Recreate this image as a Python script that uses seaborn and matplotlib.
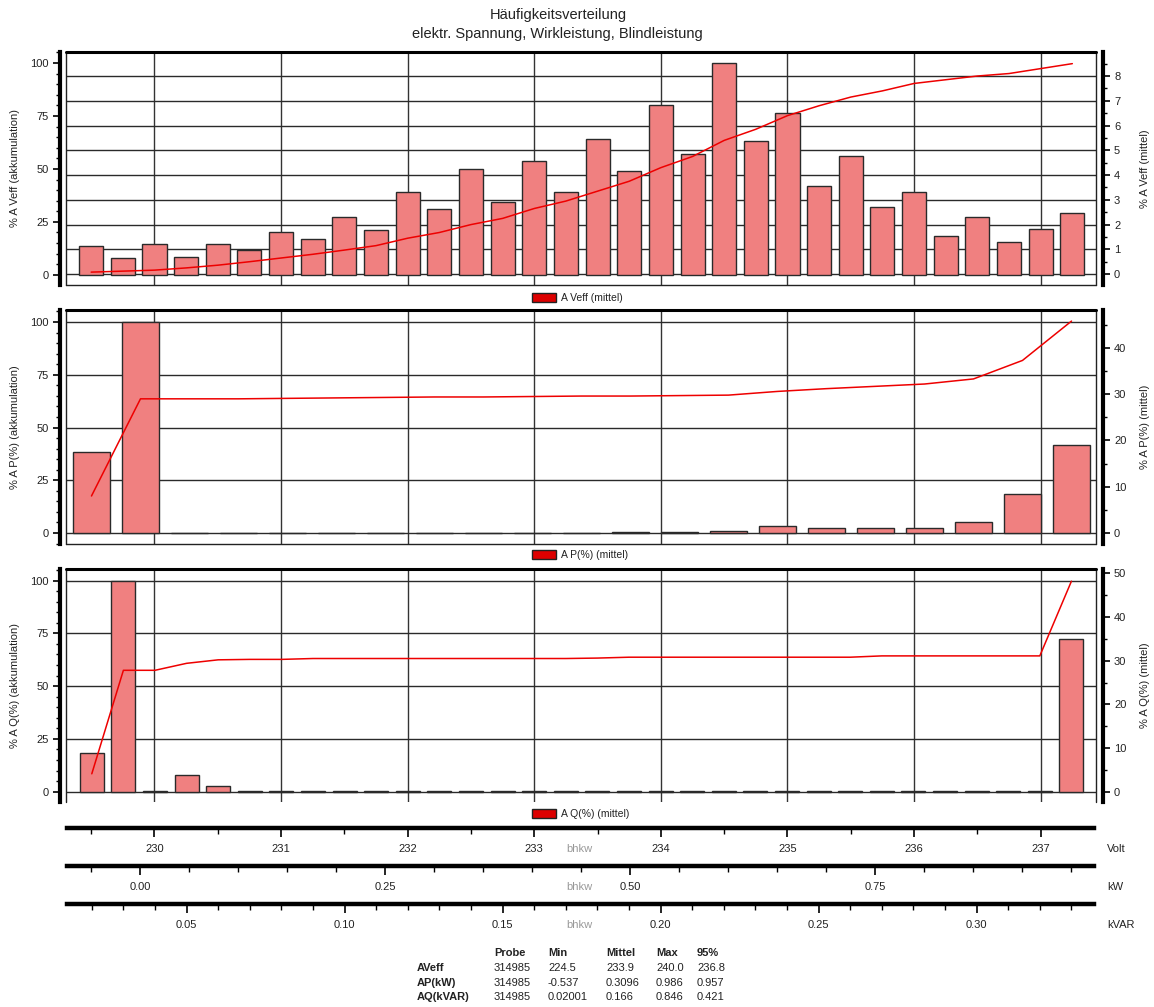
import matplotlib
matplotlib.use("Agg")
import matplotlib.pyplot as plt
import seaborn as sns
from matplotlib.patches import Patch, Rectangle
from matplotlib.lines import Line2D
from matplotlib.ticker import MultipleLocator, FormatStrFormatter

# ---------------- data ----------------
veff_bins = [229.50, 229.75, 230.00, 230.25, 230.50, 230.75, 231.00, 231.25,
             231.50, 231.75, 232.00, 232.25, 232.50, 232.75, 233.00, 233.25,
             233.50, 233.75, 234.00, 234.25, 234.50, 234.75, 235.00, 235.25,
             235.50, 235.75, 236.00, 236.25, 236.50, 236.75, 237.00, 237.25]
veff_akk = [13.8, 7.9, 14.5, 8.3, 14.5, 11.6, 20.4, 16.8, 27.4, 21.3, 39.3, 31.0,
            49.8, 34.4, 53.9, 39.2, 64.2, 48.8, 80.2, 57.2, 100.0, 63.2, 76.4, 42.0,
            56.0, 31.9, 39.0, 18.4, 27.4, 15.7, 21.8, 29.4]
veff_mittel = [0.08, 0.12, 0.16, 0.25, 0.36, 0.50, 0.65, 0.80, 0.97, 1.15, 1.45, 1.68,
               2.00, 2.25, 2.65, 2.95, 3.35, 3.75, 4.30, 4.75, 5.40, 5.85, 6.40, 6.80,
               7.15, 7.40, 7.70, 7.85, 8.00, 8.10, 8.30, 8.50]

p_bins = [-0.05, 0.00, 0.05, 0.10, 0.15, 0.20, 0.25, 0.30, 0.35, 0.40, 0.45,
          0.50, 0.55, 0.60, 0.65, 0.70, 0.75, 0.80, 0.85, 0.90, 0.95]
p_akk = [38.5, 100.0, 0.2, 0.2, 0.2, 0.2, 0.2, 0.2, 0.2, 0.2, 0.2,
         0.4, 0.4, 1.1, 3.3, 2.2, 2.2, 2.2, 5.0, 18.6, 41.6]
p_mittel = [8.0, 29.0, 29.0, 29.0, 29.1, 29.2, 29.3, 29.4, 29.4, 29.5, 29.6,
            29.6, 29.7, 29.8, 30.6, 31.2, 31.7, 32.2, 33.3, 37.3, 45.8]

q_bins = [0.02, 0.03, 0.04, 0.05, 0.06, 0.07, 0.08, 0.09, 0.10, 0.11, 0.12,
          0.13, 0.14, 0.15, 0.16, 0.17, 0.18, 0.19, 0.20, 0.21, 0.22, 0.23,
          0.24, 0.25, 0.26, 0.27, 0.28, 0.29, 0.30, 0.31, 0.32, 0.33]
q_akk = [18.1, 100.0, 0.1, 7.9, 2.9, 0.1, 0.1, 0.5, 0.1, 0.1, 0.1,
         0.1, 0.1, 0.1, 0.1, 0.1, 0.1, 0.1, 0.1, 0.1, 0.1, 0.1,
         0.1, 0.1, 0.1, 0.1, 0.1, 0.5, 0.1, 0.1, 0.1, 72.2]
q_mittel = [4.1, 27.8, 27.8, 29.4, 30.2, 30.3, 30.3, 30.5, 30.5, 30.5, 30.5,
            30.5, 30.5, 30.5, 30.5, 30.5, 30.6, 30.8, 30.8, 30.8, 30.8, 30.8,
            30.8, 30.8, 30.8, 31.1, 31.1, 31.1, 31.1, 31.1, 31.1, 48.2]

volt_grid = [230, 231, 232, 233, 234, 235, 236, 237]

title_lines = ["Häufigkeitsverteilung", "elektr. Spannung, Wirkleistung, Blindleistung"]
left_labels = ["% A Veff (akkumulation)", "% A P(%) (akkumulation)", "% A Q(%) (akkumulation)"]
right_labels = ["% A Veff (mittel)", "% A P(%) (mittel)", "% A Q(%) (mittel)"]
legend_labels = ["A Veff (mittel)", "A P(%) (mittel)", "A Q(%) (mittel)"]
unit_labels = ["Volt", "kW", "kVAR"]

stats_header = ["Probe", "Min", "Mittel", "Max", "95%"]
stats_names = ["AVeff", "AP(kW)", "AQ(kVAR)"]
stats_probe = ["314985", "314985", "314985"]
stats_min = ["224.5", "-0.537", "0.02001"]
stats_mittel = ["233.9", "0.3096", "0.166"]
stats_max = ["240.0", "0.986", "0.846"]
stats_p95 = ["236.8", "0.957", "0.421"]

# ---------------- style ----------------
sns.set_theme(style="white")
plt.rcParams['font.family'] = ['Liberation Sans', 'DejaVu Sans']
TXT = '#222222'
BAR = '#F08080'
LINE = '#EE0000'

W, H = 1154, 1007
fig = plt.figure(figsize=(W / 100, H / 100), dpi=100)

FX0, FX1 = 66, 1096
VOLT_LIM = (229.301, 237.437)
KW_LIM = (-0.0760, 0.975)
KVAR_LIM = (0.01184, 0.33778)

panels = [
    dict(bins=veff_bins, akk=veff_akk, mit=veff_mittel, xlim=VOLT_LIM, y0=52, y1=285,
         lylim=(-4.8, 105.2), rylim=(-0.44, 8.97), rmaj=1, rmin=0.5, grid='right',
         leg_y=298, bottom_edge=True),
    dict(bins=p_bins, akk=p_akk, mit=p_mittel, xlim=KW_LIM, y0=310, y1=544,
         lylim=(-5.2, 105.7), rylim=(-2.38, 48.2), rmaj=10, rmin=5, grid='left',
         leg_y=555, bottom_edge=True),
    dict(bins=q_bins, akk=q_akk, mit=q_mittel, xlim=KVAR_LIM, y0=569, y1=802,
         lylim=(-4.9, 105.5), rylim=(-2.36, 51.0), rmaj=10, rmin=5, grid='left',
         leg_y=814, bottom_edge=False),
]

for k, p in enumerate(panels):
    ax = fig.add_axes([FX0 / W, 1 - p['y1'] / H, (FX1 - FX0) / W, (p['y1'] - p['y0']) / H])
    ax2 = ax.twinx()
    ax.set_xlim(*p['xlim'])
    ax.set_ylim(*p['lylim'])
    ax2.set_ylim(*p['rylim'])

    # grid lines (behind the bars)
    xlo, xhi = p['xlim']
    for v in volt_grid:
        xv = xlo + (v - VOLT_LIM[0]) / (VOLT_LIM[1] - VOLT_LIM[0]) * (xhi - xlo)
        ax.axvline(xv, color='#333333', lw=1.0, zorder=0.5)
    if p['grid'] == 'left':
        for yv in [0, 25, 50, 75, 100]:
            ax.axhline(yv, color='#2a2a2a', lw=1.0, zorder=0.5)
    else:
        lo1, hi1 = p['lylim']
        lo2, hi2 = p['rylim']
        r = 0
        while r <= hi2:
            ax.axhline(lo1 + (r - lo2) / (hi2 - lo2) * (hi1 - lo1), color='#2a2a2a', lw=1.0, zorder=0.5)
            r += p['rmaj']

    sns.barplot(x=p['bins'], y=p['akk'], native_scale=True, width=0.76, color=BAR,
                saturation=1, edgecolor='#2a2a2a', linewidth=1.0, errorbar=None,
                ax=ax, zorder=2)
    sns.lineplot(x=p['bins'], y=p['mit'], ax=ax2, color=LINE, linewidth=1.1, zorder=3)

    ax.set_xlim(*p['xlim'])
    ax.set_ylim(*p['lylim'])
    ax2.set_ylim(*p['rylim'])
    ax.set_xlabel('')
    ax.set_ylabel('')
    ax2.set_xlabel('')
    ax2.set_ylabel('')
    ax.set_xticks([])

    # left axis
    for s in ['top', 'right', 'bottom']:
        ax.spines[s].set_visible(False)
    ax.spines['left'].set_position(('outward', 4.5))
    ax.spines['left'].set_linewidth(3.0)
    ax.spines['left'].set_color('black')
    ax.yaxis.set_major_locator(MultipleLocator(25))
    ax.yaxis.set_minor_locator(MultipleLocator(5))
    ax.tick_params(axis='y', which='major', direction='out', length=5, width=1.2,
                   labelsize=8, pad=3, colors='black', labelcolor=TXT, left=True)
    ax.tick_params(axis='y', which='minor', direction='out', length=3, width=1.0,
                   colors='black', left=True)

    # right axis
    for s in ['top', 'left', 'bottom']:
        ax2.spines[s].set_visible(False)
    ax2.spines['right'].set_position(('outward', 5))
    ax2.spines['right'].set_linewidth(3.0)
    ax2.spines['right'].set_color('black')
    ax2.yaxis.set_major_locator(MultipleLocator(p['rmaj']))
    ax2.yaxis.set_minor_locator(MultipleLocator(p['rmin']))
    ax2.tick_params(axis='y', which='major', direction='out', length=5, width=1.2,
                    labelsize=8, pad=3, colors='black', labelcolor=TXT, right=True)
    ax2.tick_params(axis='y', which='minor', direction='out', length=3, width=1.0,
                    colors='black', right=True)
    ax2.set_xticks([])
    ax2.grid(False)
    ax.grid(False)

    # frame
    edges = [([0, 0], [0, 1]), ([1, 1], [0, 1])]
    if p['bottom_edge']:
        edges.append(([0, 1], [0, 0]))
    for ex, ey in edges:
        ax.add_line(Line2D(ex, ey, transform=ax.transAxes, color='#222222',
                           lw=1.0, clip_on=False, zorder=5))
    ax.add_line(Line2D([0, 1], [1, 1], transform=ax.transAxes, color='black',
                       lw=2.2, clip_on=False, zorder=5))

    yc = 1 - (p['y0'] + p['y1']) / 2 / H
    fig.text(15 / W, yc, left_labels[k], rotation=90, ha='center', va='center',
             fontsize=8, color=TXT)
    fig.text(1145 / W, yc, right_labels[k], rotation=90, ha='center', va='center',
             fontsize=8, color=TXT)

    ax.legend(handles=[Patch(facecolor='#DD0000', edgecolor='#222222', lw=1.0)],
              labels=[legend_labels[k]], loc='center left',
              bbox_to_anchor=(532 / W, 1 - p['leg_y'] / H), bbox_transform=fig.transFigure,
              frameon=False, fontsize=7.5, handlelength=2.3, handleheight=0.85,
              handletextpad=0.5, borderpad=0, borderaxespad=0, labelcolor=TXT)

# ---------------- bottom scale axes ----------------
scales = [
    dict(y=828, lim=VOLT_LIM, maj=1, mn=0.5, fmt='%d', label_y=849),
    dict(y=866, lim=KW_LIM, maj=0.25, mn=0.05, fmt='%.2f', label_y=887),
    dict(y=904, lim=KVAR_LIM, maj=0.05, mn=0.01, fmt='%.2f', label_y=925),
]
for k, s in enumerate(scales):
    bax = fig.add_axes([67 / W, 1 - s['y'] / H, (1094 - 67) / W, 0.0001])
    bax.set_facecolor('none')
    lo, hi = s['lim']
    bax.set_xlim(lo + (1 / 1030) * (hi - lo), hi - (2 / 1030) * (hi - lo))
    for sp in ['top', 'left', 'right']:
        bax.spines[sp].set_visible(False)
    bax.spines['bottom'].set_linewidth(3.2)
    bax.spines['bottom'].set_color('black')
    bax.set_yticks([])
    bax.xaxis.set_major_locator(MultipleLocator(s['maj']))
    bax.xaxis.set_minor_locator(MultipleLocator(s['mn']))
    bax.xaxis.set_major_formatter(FormatStrFormatter(s['fmt']))
    bax.tick_params(axis='x', which='major', direction='out', length=6.5, width=1.2,
                    labelsize=8, pad=5, colors='black', labelcolor=TXT, bottom=True)
    bax.tick_params(axis='x', which='minor', direction='out', length=4, width=1.0,
                    colors='black', bottom=True)
    fig.text(579 / W, 1 - s['label_y'] / H, 'bhkw', ha='center', va='center',
             fontsize=8, color='#999999')
    fig.text(1107 / W, 1 - s['label_y'] / H, unit_labels[k], ha='left', va='center',
             fontsize=8, color=TXT)

# ---------------- title ----------------
fig.text(558 / W, 1 - 15 / H, title_lines[0], ha='center', va='center', fontsize=10.5, color=TXT)
fig.text(557 / W, 1 - 34 / H, title_lines[1], ha='center', va='center', fontsize=10.5, color=TXT)

# ---------------- statistics table ----------------
col_x = [494, 548, 606, 656, 697]
fig_rows_y = [953, 968, 983, 997]
for cx, h in zip(col_x, stats_header):
    fig.text(cx / W, 1 - fig_rows_y[0] / H, h, ha='left', va='center', fontsize=8,
             fontweight='bold', color=TXT)
for r in range(3):
    yy = 1 - fig_rows_y[r + 1] / H
    fig.text(417 / W, yy, stats_names[r], ha='left', va='center', fontsize=8,
             fontweight='bold', color=TXT)
    vals = [stats_probe[r], stats_min[r], stats_mittel[r], stats_max[r], stats_p95[r]]
    for cx, v in zip(col_x, vals):
        fig.text(cx / W, yy, v, ha='left', va='center', fontsize=8, color=TXT)

fig.savefig('out.png', dpi=100, facecolor='white')
